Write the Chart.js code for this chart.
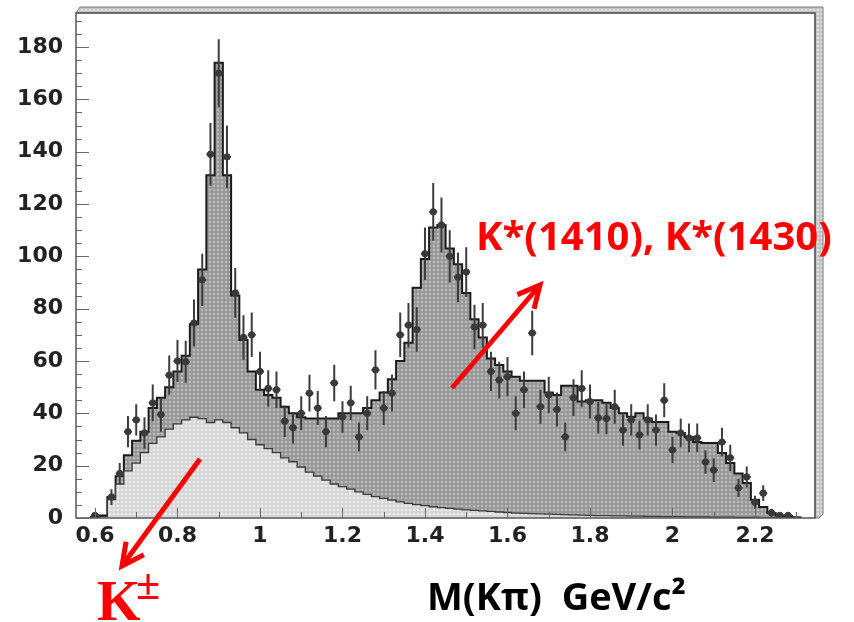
<!DOCTYPE html>
<html>
<head>
<meta charset="utf-8">
<title>M(Kπ) spectrum</title>
<script src="https://cdn.jsdelivr.net/npm/chart.js@4.4.1/dist/chart.umd.min.js"></script>
<style>
  html, body { margin: 0; padding: 0; background: #fff; }
  #wrap { position: relative; width: 854px; height: 622px; }
</style>
</head>
<body>
<div id="wrap"><canvas id="massChart"></canvas></div>
<script>
// bin centres in GeV/c^2 (bin width 0.02)
const massBins = [
  0.60, 0.62, 0.64, 0.66, 0.68, 0.70, 0.72, 0.74, 0.76, 0.78,
  0.80, 0.82, 0.84, 0.86, 0.88, 0.90, 0.92, 0.94, 0.96, 0.98,
  1.00, 1.02, 1.04, 1.06, 1.08, 1.10, 1.12, 1.14, 1.16, 1.18,
  1.20, 1.22, 1.24, 1.26, 1.28, 1.30, 1.32, 1.34, 1.36, 1.38,
  1.40, 1.42, 1.44, 1.46, 1.48, 1.50, 1.52, 1.54, 1.56, 1.58,
  1.60, 1.62, 1.64, 1.66, 1.68, 1.70, 1.72, 1.74, 1.76, 1.78,
  1.80, 1.82, 1.84, 1.86, 1.88, 1.90, 1.92, 1.94, 1.96, 1.98,
  2.00, 2.02, 2.04, 2.06, 2.08, 2.10, 2.12, 2.14, 2.16, 2.18,
  2.20, 2.22, 2.24, 2.26, 2.28, 2.30
];
const binWidth = 0.02;

// total fit (dark grey histogram)
const totalFit = [
  0.5, 1, 8, 16, 24, 29.5, 33, 42, 46, 50,
  56, 62, 74, 95, 131, 174, 131, 85, 68, 56,
  49, 47, 46, 42.5, 40, 38.5, 38, 38, 38, 38,
  40, 40, 40, 42, 45, 48, 53, 60, 67, 88,
  99, 111, 112, 103, 97, 86, 76, 69, 61, 58.5,
  56, 54, 52.5, 52.5, 52.5, 48, 47, 50.5, 50.5, 44.5,
  45, 45, 44, 42, 40, 38.7, 40, 38, 36.7, 36.7,
  33, 32.5, 31, 29, 28.7, 28.7, 24.8, 21, 17, 13.4,
  7, 4.2, 1.9, 1, 0.8, 0.3
];

// light grey component
const kaonComponent = [
  0, 0.5, 7, 13, 18, 21, 25, 28.5, 31, 34,
  36, 37.5, 38.5, 38, 36.5, 37.5, 36.5, 34.5, 32.5, 30,
  28, 26.5, 25, 23, 21.5, 19.5, 17.5, 16, 14.5, 13,
  12, 11, 10, 9, 8.2, 7.5, 6.8, 6.2, 5.6, 5.1,
  4.7, 4.3, 4.0, 3.7, 3.4, 3.1, 2.9, 2.7, 2.5, 2.3,
  2.1, 1.9, 1.8, 1.7, 1.6, 1.5, 1.4, 1.3, 1.2, 1.1,
  1.0, 0.9, 0.9, 0.8, 0.8, 0.7, 0.7, 0.6, 0.6, 0.5,
  0.5, 0.5, 0.4, 0.4, 0.4, 0.3, 0.3, 0.3, 0.2, 0.2,
  0.2, 0.1, 0.1, 0, 0, 0
];

// measured entries and their errors
const dataCounts = [
  1, null, 8, 17, 33, 37.5, 32.5, 44, 39.5, 54.6,
  60, 59.7, 74.5, 91, 139, 170, 138, 86, 69, 70,
  56, 49.5, 49, 37, 34.5, 40, 47.7, 42, 33, 51.6,
  38.6, 44, 31, 40, 56.6, 42, 47.7, 70, 73.7, 72,
  101, 117, 112, 100, 92, 94, 73, 73.7, 56, 52.7,
  54, 40, 49, 70.7, 42.5, 47, 41.5, 31, 46, 49.5,
  44.5, 38.3, 38, 42.5, 33.6, 37.5, 31.7, 37.5, 33.6, 45,
  26, 32.5, 30.6, 30.6, 21.4, 18.3, 29, 23, 11.5, 15.7,
  6, 9.5, 2, 1, 1, null
];
const dataErrors = [
  1, 0, 3, 4, 6, 6, 6, 7, 6.5, 7.5,
  8, 8, 9, 10, 12, 13, 12, 9.5, 8.5, 8.5,
  7.5, 7, 7, 6, 6, 6.5, 7, 6.5, 6, 7,
  6, 6.5, 5.5, 6.5, 7.5, 6.5, 7, 8.5, 8.5, 8.5,
  10, 11, 10.5, 10, 9.5, 9.5, 8.5, 8.5, 7.5, 7,
  7.5, 6.5, 7, 8.5, 6.5, 7, 6.5, 5.5, 7, 7,
  6.5, 6, 6, 6.5, 6, 6, 5.5, 6, 6, 6.5,
  5, 5.5, 5.5, 5.5, 4.5, 4.5, 5.5, 5, 3.5, 4,
  2.5, 3, 1.5, 1, 1, 0
];

const xTickValues = [0.6, 0.8, 1.0, 1.2, 1.4, 1.6, 1.8, 2.0, 2.2];
const yTickValues = [0, 20, 40, 60, 80, 100, 120, 140, 160, 180];

// ROOT style dotted fill
function dotPattern(bg, dot) {
  const c = document.createElement('canvas');
  c.width = 4; c.height = 4;
  const g = c.getContext('2d');
  g.fillStyle = bg;
  g.fillRect(0, 0, 4, 4);
  g.fillStyle = dot;
  g.fillRect(1, 1, 2, 2);
  return g.createPattern(c, 'repeat');
}
const midFill = dotPattern('#999999', '#bdbdbd');
const lightFill = dotPattern('#d6d6d6', '#efefef');
const bandFill = dotPattern('#c4c4c4', '#e4e4e4');

// histogram outline as step points
function stepPoints(vals) {
  const half = binWidth / 2;
  const pts = [{ x: massBins[0] - half, y: 0 }];
  vals.forEach((v, i) => {
    pts.push({ x: massBins[i] - half, y: v });
    pts.push({ x: massBins[i] + half, y: v });
  });
  pts.push({ x: massBins[massBins.length - 1] + half, y: 0 });
  return pts;
}

function arrow(ctx, x0, y0, x1, y1) {
  const dx = x1 - x0, dy = y1 - y0;
  const len = Math.hypot(dx, dy);
  const ux = dx / len, uy = dy / len;
  const bx = x1 - ux * 22, by = y1 - uy * 22;
  ctx.beginPath();
  ctx.moveTo(x0, y0);
  ctx.lineTo(x1, y1);
  ctx.stroke();
  ctx.beginPath();
  ctx.moveTo(bx - uy * 11, by + ux * 11);
  ctx.lineTo(x1, y1);
  ctx.lineTo(bx + uy * 11, by - ux * 11);
  ctx.stroke();
}

const rootFrame = {
  id: 'rootFrame',
  beforeDatasetDraw(chart, args) {
    // error bars under the data markers
    if (args.index !== 2) return;
    const ctx = chart.ctx, ys = chart.scales.y, a = chart.chartArea;
    const meta = chart.getDatasetMeta(2);
    ctx.save();
    ctx.beginPath();
    ctx.rect(a.left, a.top, a.right - a.left, a.bottom - a.top);
    ctx.clip();
    ctx.strokeStyle = '#3c3c3c';
    ctx.lineWidth = 2;
    meta.data.forEach((pt, i) => {
      const v = dataCounts[i];
      if (v == null) return;
      const e = dataErrors[i];
      ctx.beginPath();
      ctx.moveTo(pt.x, ys.getPixelForValue(v + e));
      ctx.lineTo(pt.x, ys.getPixelForValue(Math.max(v - e, 0)));
      ctx.moveTo(pt.x - 4, pt.y);
      ctx.lineTo(pt.x + 4, pt.y);
      ctx.stroke();
    });
    ctx.restore();
  },
  afterDatasetsDraw(chart) {
    const ctx = chart.ctx, xs = chart.scales.x, ys = chart.scales.y;
    const { left, right, top, bottom } = chart.chartArea;
    ctx.save();
    // bevelled band on top and right
    ctx.fillStyle = bandFill;
    ctx.strokeStyle = '#777';
    ctx.lineWidth = 1;
    ctx.beginPath();
    ctx.moveTo(left, top);
    ctx.lineTo(left + 4, top - 6);
    ctx.lineTo(right + 8, top - 6);
    ctx.lineTo(right + 8, bottom - 4);
    ctx.lineTo(right + 4, bottom);
    ctx.lineTo(right, bottom);
    ctx.lineTo(right, top);
    ctx.closePath();
    ctx.fill();
    ctx.stroke();
    ctx.strokeStyle = '#555';
    ctx.lineWidth = 1.5;
    ctx.strokeRect(left, top, right - left, bottom - top);

    // inward ticks
    ctx.strokeStyle = '#666';
    ctx.lineWidth = 1;
    ctx.beginPath();
    for (let v = 0; v <= 190; v += 5) {
      const y = Math.round(ys.getPixelForValue(v)) + 0.5;
      ctx.moveTo(left, y);
      ctx.lineTo(left + (v % 20 === 0 ? 13 : 6), y);
    }
    for (let k = 6; k <= 23; k++) {
      const x = Math.round(xs.getPixelForValue(k / 10)) + 0.5;
      ctx.moveTo(x, bottom);
      ctx.lineTo(x, bottom - (k % 2 === 0 ? 10 : 6));
    }
    ctx.stroke();
    ctx.restore();
  },
  afterDraw(chart) {
    const ctx = chart.ctx;
    ctx.save();
    ctx.strokeStyle = '#ff0000';
    ctx.lineWidth = 5;
    ctx.lineJoin = 'miter';
    arrow(ctx, 200, 459, 122, 566);
    arrow(ctx, 452, 388, 540, 285);

    ctx.fillStyle = '#ff0000';
    ctx.textBaseline = 'alphabetic';
    ctx.font = 'bold 40px "Open Sans"';
    ctx.fillText('K*(1410), K*(1430)', 476, 250, 374);
    ctx.font = 'bold 56px "Liberation Serif"';
    ctx.fillText('K', 97, 620);
    ctx.font = 'bold 44px "Liberation Serif"';
    ctx.fillText('±', 136, 599);

    ctx.fillStyle = '#000';
    ctx.font = 'bold 38px "Open Sans"';
    ctx.fillText('M(Kπ)  GeV/c²', 427, 610, 283);
    ctx.restore();
  }
};

const tickFont = { family: 'DejaVu Sans', weight: 'bold', size: 22 };

const config = {
  type: 'line',
  data: {
    datasets: [
      {
        label: 'total',
        data: stepPoints(totalFit),
        borderColor: '#1a1a1a',
        borderWidth: 2,
        backgroundColor: midFill,
        fill: 'origin',
        pointRadius: 0,
        tension: 0,
        order: 3
      },
      {
        label: 'K± component',
        data: stepPoints(kaonComponent),
        borderColor: '#3a3a3a',
        borderWidth: 1.3,
        backgroundColor: lightFill,
        fill: 'origin',
        pointRadius: 0,
        tension: 0,
        order: 2
      },
      {
        label: 'data',
        data: massBins.map((m, i) => ({ x: m, y: dataCounts[i] })),
        showLine: false,
        pointRadius: 3.2,
        pointBackgroundColor: '#3a3a3a',
        pointBorderColor: '#3a3a3a',
        order: 1
      }
    ]
  },
  options: {
    responsive: true,
    maintainAspectRatio: false,
    animation: false,
    devicePixelRatio: 1,
    layout: { padding: { top: 13, right: 39, left: 0, bottom: 0 } },
    plugins: {
      legend: { display: false },
      tooltip: { enabled: false }
    },
    scales: {
      x: {
        type: 'linear',
        min: 0.554,
        max: 2.3455,
        afterFit: (s) => {
          s.height = 104;
          s.paddingLeft = 0;
          s.paddingRight = 0;
        },
        afterBuildTicks: (s) => { s.ticks = xTickValues.map(v => ({ value: v })); },
        grid: { display: false, drawTicks: false },
        border: { display: false },
        ticks: {
          callback: (v) => String(+v.toFixed(1)),
          font: tickFont,
          color: '#222',
          padding: 5,
          maxRotation: 0,
          autoSkip: false
        }
      },
      y: {
        min: 0,
        max: 193,
        afterFit: (s) => {
          s.width = 76;
          s.paddingTop = 0;
          s.paddingBottom = 0;
        },
        afterBuildTicks: (s) => { s.ticks = yTickValues.map(v => ({ value: v })); },
        grid: { display: false, drawTicks: false },
        border: { display: false },
        ticks: {
          font: tickFont,
          color: '#222',
          padding: 13
        }
      }
    }
  },
  plugins: [rootFrame]
};

const ctx = document.getElementById('massChart').getContext('2d');
new Chart(ctx, config);
</script>
</body>
</html>
